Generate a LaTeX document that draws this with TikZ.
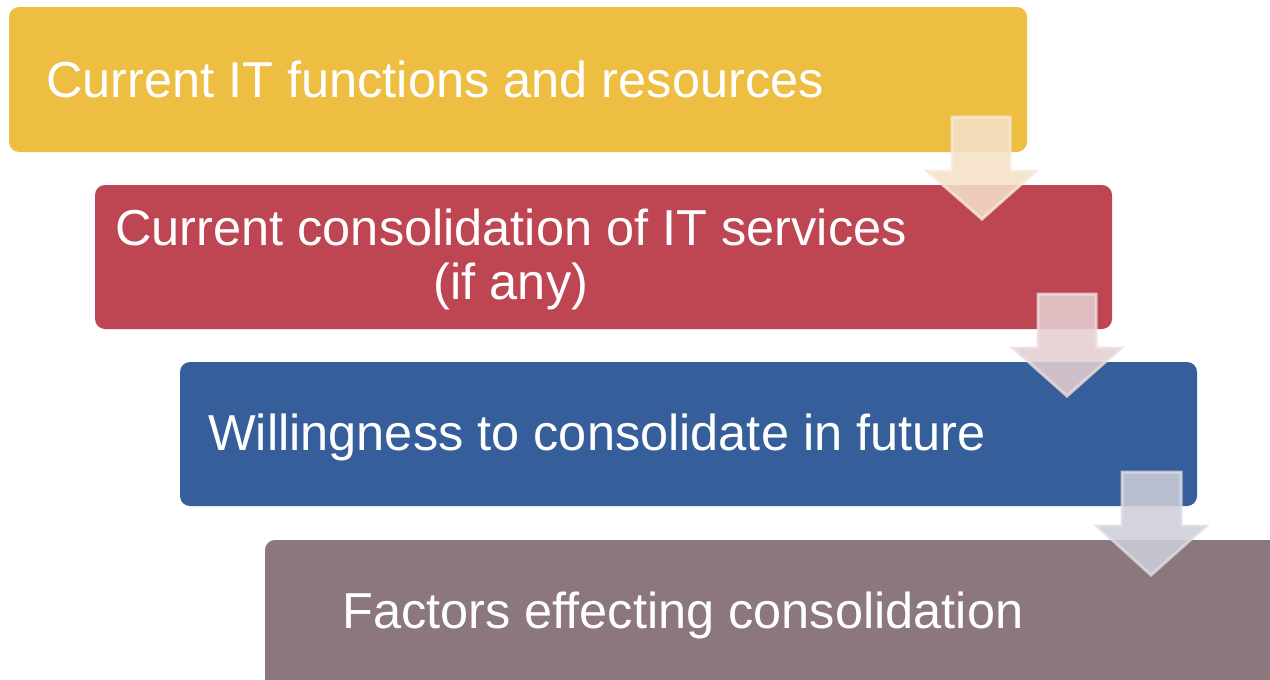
\documentclass[tikz,border=0pt]{standalone}
\usepackage{fontspec}
\setmainfont{Liberation Sans}
\definecolor{cyel}{RGB}{237,190,66}
\definecolor{cred}{RGB}{190,69,82}
\definecolor{cblu}{RGB}{54,94,154}
\definecolor{cmau}{RGB}{139,119,125}
\definecolor{ar1}{RGB}{245,225,201}
\definecolor{ar2}{RGB}{228,206,208}
\definecolor{ar3}{RGB}{205,206,216}
\tikzset{
  stepbox/.style={rounded corners=10pt},
  lbl/.style={text=white,font=\fontsize{50.5}{54}\selectfont,inner sep=0pt},
  downarrow/.style={fill opacity=0.87,draw opacity=0.8,line width=3pt,line join=miter},
}
\begin{document}
\begin{tikzpicture}[x=1pt,y=-1pt]
\useasboundingbox (0,0) rectangle (1270,680);
\clip (0,0) rectangle (1270,680);
\fill[white] (0,0) rectangle (1270,680);
% boxes
\fill[cyel,stepbox] (9,7) rectangle (1027,152);
\fill[cred,stepbox] (95,185) rectangle (1112,329);
\fill[cblu,stepbox] (180,362) rectangle (1197,506);
\fill[cmau,stepbox] (265,540) rectangle (1300,720);
% labels
\node[lbl,anchor=base west] (t1) at (46,97) {Current IT functions and resources};
\node[lbl,anchor=base,align=center] (t2) at (511,299) {Current consolidation of IT services\\(if any)};
\node[lbl,anchor=base west] (t3) at (208,450) {Willingness to consolidate in future};
\node[lbl,anchor=base west] (t4) at (342,628) {Factors effecting consolidation};
% arrows
\draw[downarrow,fill=ar1,draw=ar1!70!white]
  (952,117) -- (1010,117) -- (1010,171) -- (1036,171) -- (982,219) -- (927,171) -- (952,171) -- cycle;
\draw[downarrow,fill=ar2,draw=ar2!70!white]
  (1038,294) -- (1096,294) -- (1096,348) -- (1121,348) -- (1067,396) -- (1013,348) -- (1038,348) -- cycle;
\draw[downarrow,fill=ar3,draw=ar3!70!white]
  (1122,472) -- (1181,472) -- (1181,526) -- (1206,526) -- (1151,575) -- (1097,526) -- (1122,526) -- cycle;
\end{tikzpicture}
\end{document}
